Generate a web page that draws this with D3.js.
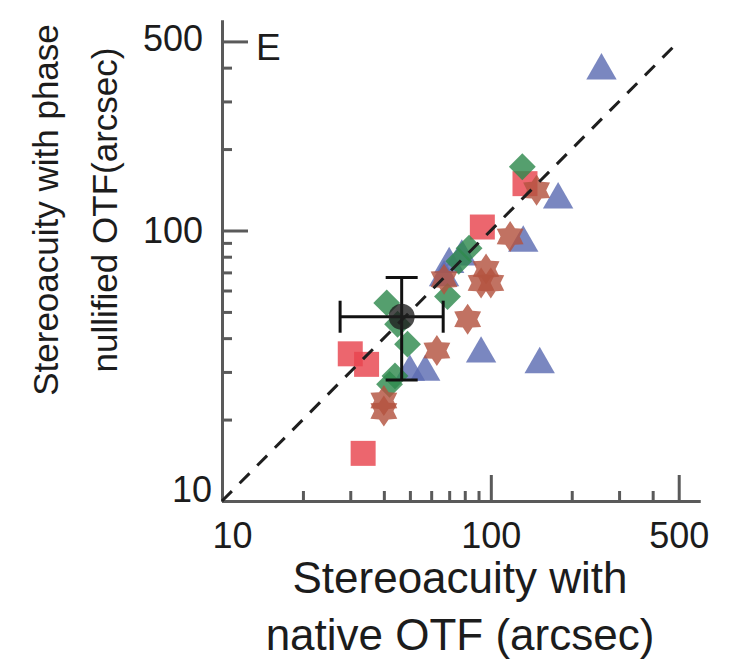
<!DOCTYPE html>
<html>
<head>
<meta charset="utf-8">
<script src="https://cdn.jsdelivr.net/npm/d3@7"></script>
<style>
  body { margin: 0; background: #fff; }
  text { font-family: "Liberation Sans", Arial, Helvetica, sans-serif; fill: #1c1c1c; }
</style>
</head>
<body>
<svg id="chart" width="730" height="669"></svg>
<script>
// Tick values (arcsec) for both log axes
const majorTicks = [10, 100, 500];
const minorTicks = [20, 30, 40, 50, 60, 70, 80, 90, 200, 300, 400];

// Individual observers: [native OTF, phase-nullified OTF] stereoacuity (arcsec)
const squares = [[93, 103], [134, 149], [30, 35], [34.5, 32], [33.5, 15]];
const triangles = [[258, 390], [178, 130], [132, 90], [92, 35], [152, 32], [57, 30], [50, 30], [70, 75], [78, 80], [67, 67]];
const diamonds = [[131, 172], [83, 86], [76, 77], [69, 57], [41, 54], [45, 45], [49, 38], [44, 29], [42, 27]];
const stars = [[148, 141], [118, 95], [96, 72], [92, 64], [100, 64], [82, 47], [63, 36], [40, 23.5], [40, 21.5], [67, 66]];

// Group mean with spread
const meanPoint = [46.6, 48];
const meanXRange = [27.5, 66.5];
const meanYRange = [28, 67];

// Identity line extent
const identity = [10, 480];

const svg = d3.select("#chart");
const x = d3.scaleLog().domain([10, 600]).range([222, 700]);
const y = d3.scaleLog().domain([10, 600]).range([501, 20]);

const axisColor = "#5a5a5a";

// Six-pointed star symbol; size is the outer radius
const star6 = {
  draw(ctx, size) {
    const R = size, r = size * 0.62;
    for (let i = 0; i < 12; i++) {
      const a = Math.PI / 6 * i - Math.PI / 2;
      const rad = i % 2 ? r : R;
      const px = rad * Math.cos(a), py = rad * Math.sin(a);
      if (i === 0) ctx.moveTo(px, py); else ctx.lineTo(px, py);
    }
    ctx.closePath();
  }
};

// Axes: minor ticks, then major ticks with labels (ticks point inward)
function styleAxis(g) {
  g.selectAll("path.domain").attr("stroke", axisColor).attr("stroke-width", 3);
  g.selectAll(".tick line").attr("stroke", axisColor).attr("stroke-width", 3);
  g.attr("font-family", null).attr("font-size", null);
}

const gxMinor = svg.append("g").attr("transform", "translate(0,501)")
  .call(d3.axisBottom(x).tickValues(minorTicks).tickSize(-10).tickSizeOuter(0).tickFormat(""));
styleAxis(gxMinor);
const gyMinor = svg.append("g").attr("transform", "translate(222,0)")
  .call(d3.axisLeft(y).tickValues(minorTicks).tickSize(-10).tickSizeOuter(0).tickFormat(""));
styleAxis(gyMinor);

const gx = svg.append("g").attr("transform", "translate(0,501)")
  .call(d3.axisBottom(x).tickValues(majorTicks).tickSize(-26).tickSizeOuter(0)
    .tickPadding(21).tickFormat(d3.format("d")));
styleAxis(gx);
gx.selectAll(".tick text").style("font-size", "36px").attr("fill", "#1c1c1c")
  .attr("dx", d => d === 10 ? 10 : 0);

const gy = svg.append("g").attr("transform", "translate(222,0)")
  .call(d3.axisLeft(y).tickValues(majorTicks).tickSize(-26).tickSizeOuter(0)
    .tickPadding(19).tickFormat(d3.format("d")));
styleAxis(gy);
gy.selectAll(".tick text").style("font-size", "36px").attr("fill", "#1c1c1c")
  .attr("x", d => d === 10 ? -10 : -19)
  .attr("dy", d => d === 10 ? "0.02em" : (d === 500 ? "0.24em" : "0.34em"));

// Panel letter
svg.append("text").attr("x", 256).attr("y", 60).style("font-size", "37px").text("E");

// Markers
const plot = svg.append("g");
function drawSeries(data, type, size, fill, rotate) {
  plot.append("g").selectAll("path").data(data).join("path")
    .attr("d", d3.symbol().type(type).size(size))
    .attr("transform", d => `translate(${x(d[0])},${y(d[1])})` + (rotate ? ` rotate(${rotate})` : ""))
    .attr("fill", fill).attr("fill-opacity", 0.82);
}
drawSeries(squares, d3.symbolSquare, 25 * 25, "#e8444e");
drawSeries(triangles, d3.symbolTriangle, 400, "#5d6db2");
drawSeries(diamonds, d3.symbolSquare, 19 * 19, "#2f8a4e", 45);
drawSeries(stars, star6, 15.5, "#b3533f");

// Identity line
svg.append("line")
  .attr("x1", x(identity[0])).attr("y1", y(identity[0]))
  .attr("x2", x(identity[1])).attr("y2", y(identity[1]))
  .attr("stroke", "#1e1e1e").attr("stroke-width", 3)
  .attr("stroke-dasharray", "14,11");

// Mean with error bars
const eb = svg.append("g").attr("stroke", "#111").attr("stroke-width", 3);
const mx = x(meanPoint[0]), my = y(meanPoint[1]);
eb.append("line").attr("x1", x(meanXRange[0])).attr("x2", x(meanXRange[1])).attr("y1", my).attr("y2", my);
eb.append("line").attr("x1", mx).attr("x2", mx).attr("y1", y(meanYRange[0])).attr("y2", y(meanYRange[1]));
meanXRange.forEach(v => eb.append("line").attr("x1", x(v)).attr("x2", x(v)).attr("y1", my - 16).attr("y2", my + 16));
meanYRange.forEach(v => eb.append("line").attr("x1", mx - 16).attr("x2", mx + 16).attr("y1", y(v)).attr("y2", y(v)));
svg.append("circle").attr("cx", mx).attr("cy", my).attr("r", 13)
  .attr("fill", "#1f1f1f").attr("fill-opacity", 0.8);

// Axis titles
const xt = svg.append("text").attr("text-anchor", "middle").style("font-size", "44px");
xt.append("tspan").attr("x", 460).attr("y", 593).text("Stereoacuity with");
xt.append("tspan").attr("x", 460).attr("y", 650).text("native OTF (arcsec)");

const yt = svg.append("text").attr("text-anchor", "middle").style("font-size", "35px")
  .attr("transform", "translate(0,210) rotate(-90)");
yt.append("tspan").attr("x", 0).attr("y", 58).text("Stereoacuity with phase");
yt.append("tspan").attr("x", 0).attr("y", 117).text("nullified OTF(arcsec)");
</script>
</body>
</html>
